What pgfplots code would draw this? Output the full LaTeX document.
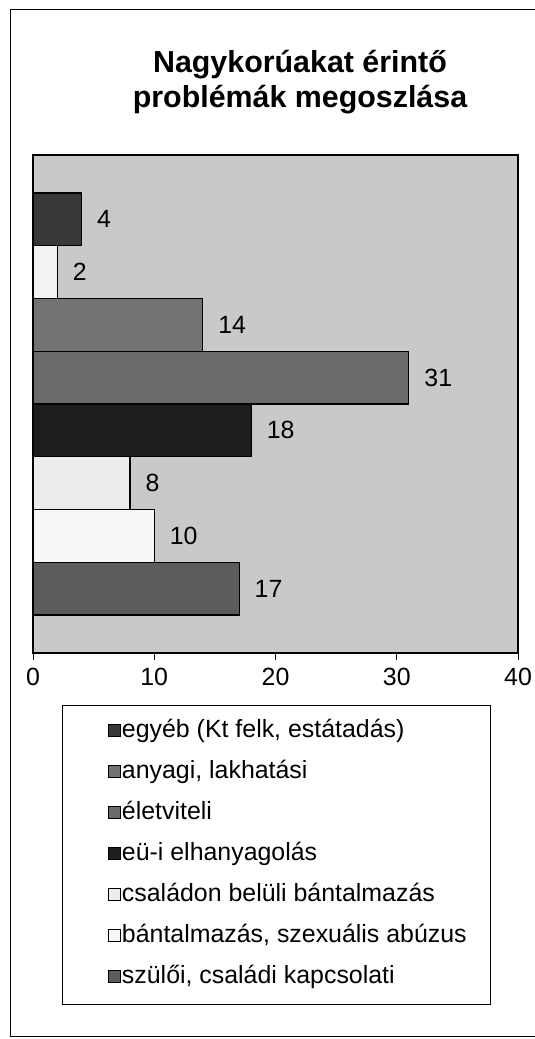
\documentclass[border=0pt]{standalone}
\usepackage{pgfplots}
\pgfplotsset{compat=1.18}
\usepackage{fontspec}
\setmainfont{Liberation Sans}
\definecolor{plotbg}{HTML}{C9C9C9}
\definecolor{cA}{HTML}{5C5C5C}
\definecolor{cB}{HTML}{F7F7F7}
\definecolor{cC}{HTML}{ECECEC}
\definecolor{cD}{HTML}{1E1E1E}
\definecolor{cE}{HTML}{6A6A6A}
\definecolor{cF}{HTML}{737373}
\definecolor{cG}{HTML}{F2F2F2}
\definecolor{cH}{HTML}{383838}
\begin{document}
\begin{tikzpicture}[x=1bp,y=1bp]
\useasboundingbox (0,0) rectangle (535,1039);
\draw[line width=0.8bp] (10,3) rectangle (560,1030);
\node[anchor=base, font=\fontsize{30.5}{34}\selectfont\bfseries] at (300,966) {Nagykorúakat érintő};
\node[anchor=base, font=\fontsize{30.5}{34}\selectfont\bfseries] at (300,931) {problémák megoszlása};
\draw[line width=0.8bp] (62,35) rectangle (490,334);
\begin{axis}[
  at={(33bp,386bp)}, anchor=south west,
  scale only axis, width=485bp, height=498bp,
  xbar, bar width=52.7bp, bar shift=0pt,
  xmin=0, xmax=40, ymin=-1.22, ymax=8.22,
  xtick={0,10,20,30,40}, ytick=\empty,
  xtick pos=bottom, tick align=outside, major tick length=7bp,
  axis background/.style={fill=plotbg},
  axis line style={line width=1.2bp},
  tick style={line width=1bp, black},
  /pgf/number format/assume math mode=true,
  xticklabel style={font=\fontsize{25}{28}\selectfont, yshift=-5bp},
  nodes near coords,
  nodes near coords style={font=\fontsize{25}{28}\selectfont, anchor=west, inner sep=0pt, xshift=15bp},
  reverse legend,
  legend image code/.code={\draw[#1, line width=0.8bp] (0bp,-5bp) rectangle (12bp,7bp);},
  legend cell align=left,
  legend style={draw=none, fill=none, at={(0.1546,-0.1305)}, anchor=north west,
    font=\fontsize{25}{28}\selectfont, inner sep=0pt, row sep=15bp,
    nodes={text height=18bp, text depth=6bp, inner sep=1pt}},
]
\addplot[draw=black, line width=1.2bp, fill=cA] coordinates {(17,0)};
\addlegendentry{szülői, családi kapcsolati}
\addplot[draw=black, line width=1.2bp, fill=cB] coordinates {(10,1)};
\addlegendentry{bántalmazás, szexuális abúzus}
\addplot[draw=black, line width=1.2bp, fill=cC] coordinates {(8,2)};
\addlegendentry{családon belüli bántalmazás}
\addplot[draw=black, line width=1.2bp, fill=cD] coordinates {(18,3)};
\addlegendentry{eü-i elhanyagolás}
\addplot[draw=black, line width=1.2bp, fill=cE] coordinates {(31,4)};
\addlegendentry{életviteli}
\addplot[draw=black, line width=1.2bp, fill=cF] coordinates {(14,5)};
\addlegendentry{anyagi, lakhatási}
\addplot[draw=black, line width=1.2bp, fill=cG, forget plot] coordinates {(2,6)};
\addplot[draw=black, line width=1.2bp, fill=cH] coordinates {(4,7)};
\addlegendentry{egyéb (Kt felk, estátadás)}
\end{axis}
\end{tikzpicture}
\end{document}
